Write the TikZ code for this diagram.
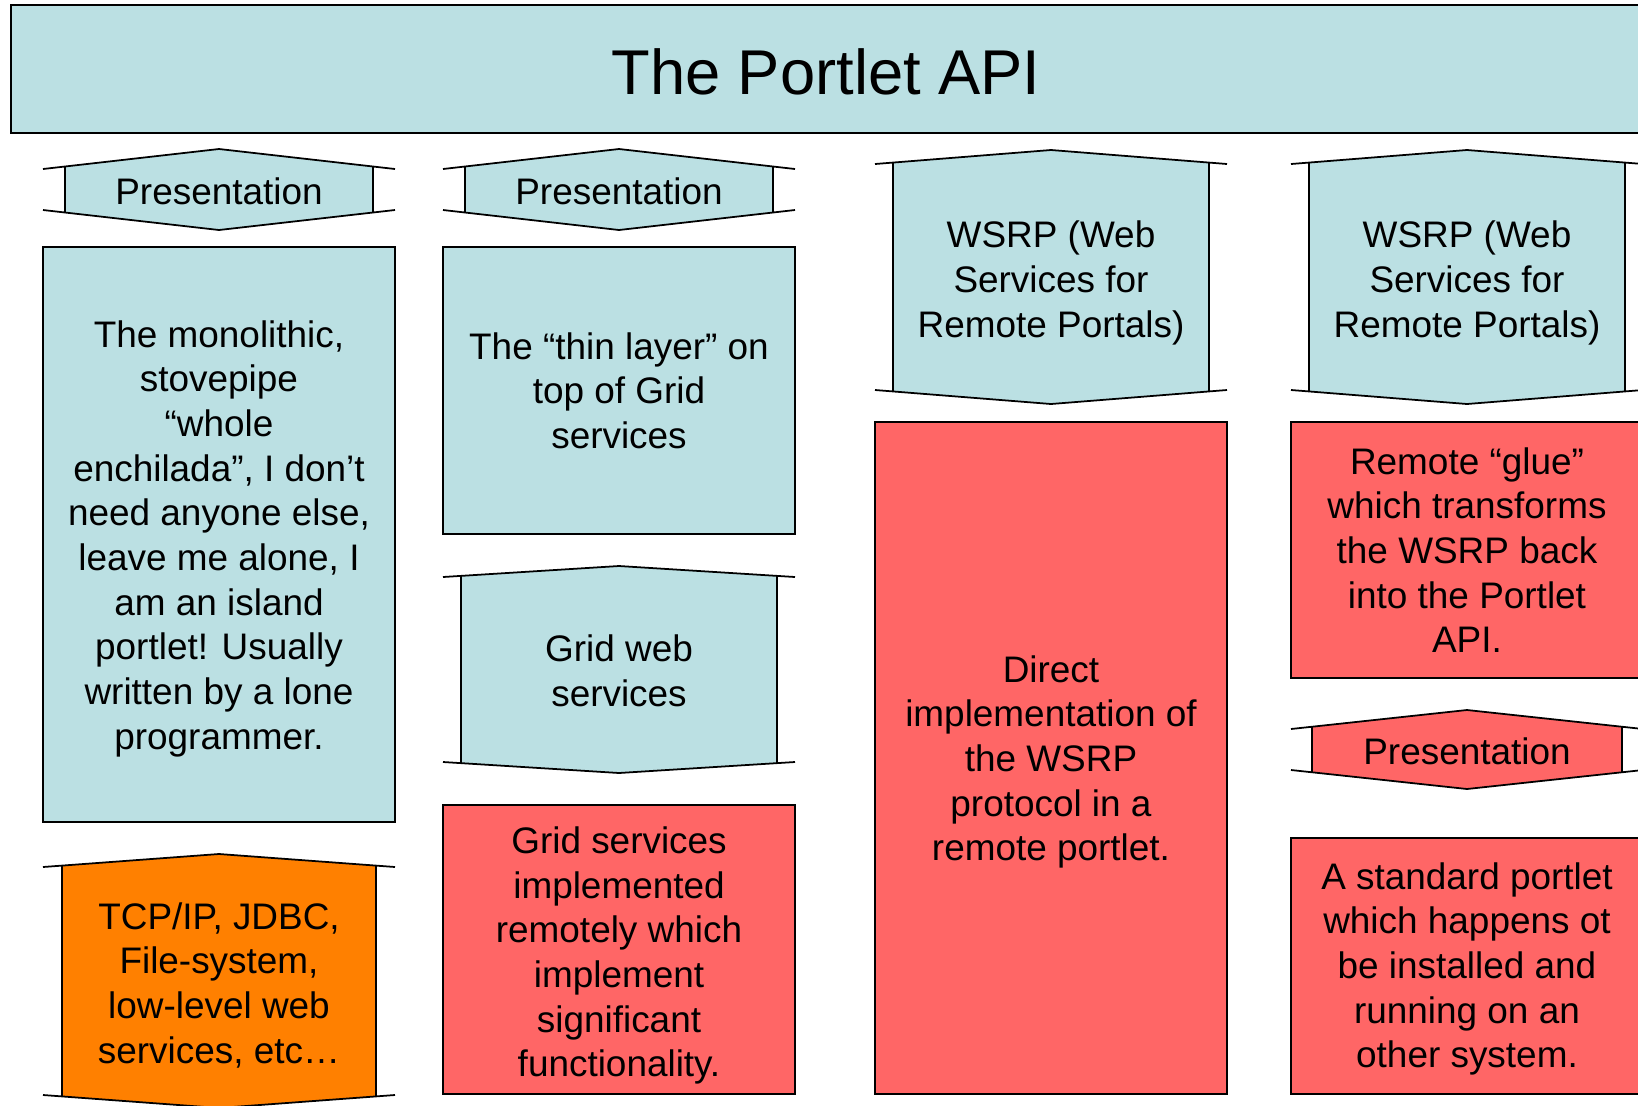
\documentclass[tikz,border=0pt]{standalone}
\usepackage{fontspec}
\setmainfont{Liberation Sans}
\usetikzlibrary{calc}
\definecolor{layerblue}{HTML}{BBE0E3}
\definecolor{remotered}{HTML}{FF6666}
\definecolor{lowlevel}{HTML}{FF8000}
\tikzset{edge/.style={line width=.5pt,line join=miter},
 every node/.style={font=\fontsize{10.5}{12.7}\selectfont,align=center}}

% band with stubs: name, left, right, top, bottom, rise, inset, colour
\newcommand{\band}[8]{%
 \coordinate (#1-tl) at (#2,#4); \coordinate (#1-tr) at (#3,#4);
 \coordinate (#1-bl) at (#2,#5); \coordinate (#1-br) at (#3,#5);
 \coordinate (#1-n) at ({(#2+#3)/2},{#4-#6});
 \coordinate (#1-s) at ({(#2+#3)/2},{#5+#6});
 \pgfmathsetmacro\bandfrac{#7*2/(#3-#2)}
 \begin{scope}
 \clip (#2+#7,0) rectangle (#3-#7,1200);
 \fill[#8] (#1-tl)--(#1-n)--(#1-tr)--(#1-br)--(#1-s)--(#1-bl)--cycle;
 \end{scope}
 \draw[edge] (#1-tl)--(#1-n)--(#1-tr) (#1-bl)--(#1-s)--(#1-br);
 \draw[edge] ($(#1-tl)!\bandfrac!(#1-n)$)--($(#1-bl)!\bandfrac!(#1-s)$)
  ($(#1-tr)!\bandfrac!(#1-n)$)--($(#1-br)!\bandfrac!(#1-s)$);}

\begin{document}
\begin{tikzpicture}[x=0.01cm,y=-0.01cm]
\useasboundingbox (0,0) rectangle (1638,1105);
\clip (0,0) rectangle (1638,1105);
\draw[edge,line width=.8pt,fill=layerblue] (11,5) rectangle (1641,133);
\node[font=\fontsize{18}{22}\selectfont] (api) at (826,72) {The Portlet API};
% column 1: monolithic portlet
\band{pres1}{43}{395}{169}{210}{20}{22}{layerblue}
\node (pres1) at (219,191.5) {Presentation};
\draw[edge,fill=layerblue] (43,247) rectangle (395,822);
\node (mono) at (219,538.5)
 {The monolithic,\\stovepipe\\“whole\\enchilada”, I don’t\\need anyone else,\\leave me alone, I\\am an island\\portlet!  Usually\\written by a lone\\programmer.};
\band{tcp}{43}{395}{867}{1095}{13}{19}{lowlevel}
\node (tcp) at (219,985) {TCP/IP, JDBC,\\File-system,\\low-level web\\services, etc…};
% column 2: thin layer on grid services
\band{pres2}{443}{795}{169}{210}{20}{22}{layerblue}
\node (pres2) at (619,191.5) {Presentation};
\draw[edge,fill=layerblue] (443,247) rectangle (795,534);
\node (thin) at (619,390.5) {The “thin layer” on\\top of Grid\\services};
\band{grid}{443}{795}{577}{762}{11}{18}{layerblue}
\node (grid) at (619,670.5) {Grid web\\services};
\draw[edge,fill=remotered] (443,805) rectangle (795,1094);
\node (gridimpl) at (619,955.5)
 {Grid services\\implemented\\remotely which\\implement\\significant\\functionality.};
% column 3: direct WSRP
\band{wsrp1}{875}{1227}{164}{390}{14}{18}{layerblue}
\node (wsrp1) at (1051,283) {WSRP (Web\\Services for\\Remote Portals)};
\draw[edge,fill=remotered] (875,422) rectangle (1227,1094);
\node (direct) at (1051,762) {Direct\\implementation of\\the WSRP\\protocol in a\\remote portlet.};
% column 4: remote glue
\band{wsrp2}{1291}{1643}{164}{390}{14}{18}{layerblue}
\node (wsrp2) at (1467,283) {WSRP (Web\\Services for\\Remote Portals)};
\draw[edge,fill=remotered] (1291,422) rectangle (1643,678);
\node (glue) at (1467,550) {Remote “glue”\\which transforms\\the WSRP back\\into the Portlet\\API.};
\band{pres3}{1291}{1643}{729}{770}{19}{21}{remotered}
\node (pres3) at (1467,751.5) {Presentation};
\draw[edge,fill=remotered] (1291,838) rectangle (1643,1094);
\node (standard) at (1467,969)
 {A standard portlet\\which happens ot\\be installed and\\running on an\\other system.};
\end{tikzpicture}
\end{document}
